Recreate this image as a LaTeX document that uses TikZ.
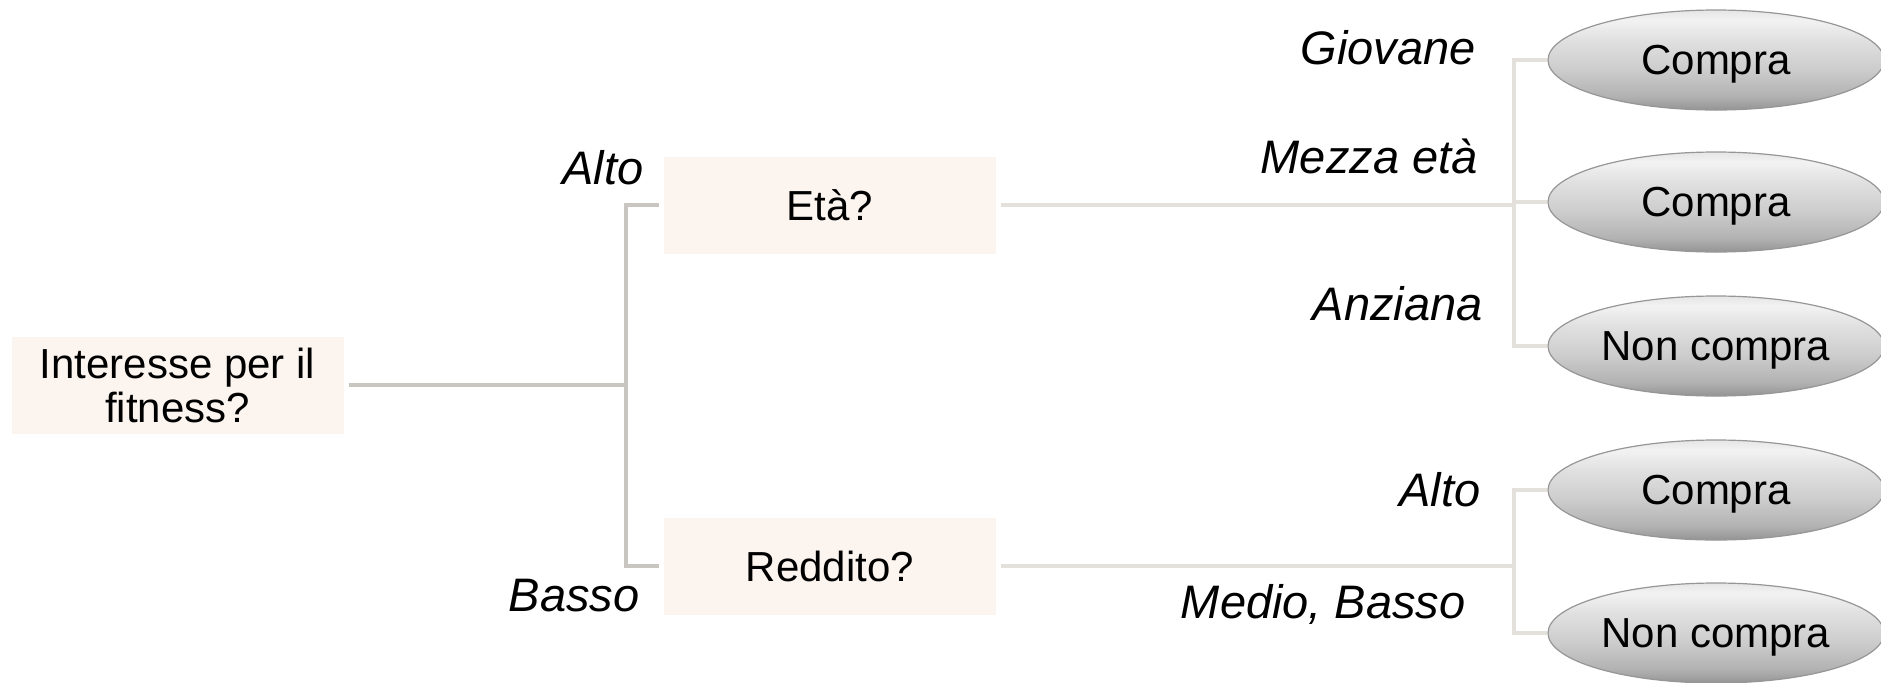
\documentclass[tikz,border=0pt]{standalone}
\usepackage{fontspec}
\setmainfont{Liberation Sans}
\usetikzlibrary{shapes.geometric}

\definecolor{boxfill}{RGB}{251,244,239}
\definecolor{linkdark}{RGB}{201,197,193}
\definecolor{linklight}{RGB}{228,224,220}
\definecolor{leafedge}{RGB}{150,150,150}

% glossy grey fill of the outcome ellipses (bottom dark, top light)
\pgfdeclareverticalshading{leafshade}{100bp}{%
  rgb(0bp)=(0.55,0.55,0.55);
  rgb(25bp)=(0.58,0.58,0.58);
  rgb(32bp)=(0.70,0.70,0.70);
  rgb(45bp)=(0.80,0.80,0.80);
  rgb(60bp)=(0.88,0.88,0.88);
  rgb(70bp)=(0.95,0.95,0.95);
  rgb(75bp)=(0.90,0.90,0.90);
  rgb(100bp)=(0.90,0.90,0.90)}

\tikzset{
  txt/.style={font=\fontsize{21}{22}\selectfont},
  question/.style={txt, rectangle, fill=boxfill, inner sep=0pt,
    minimum width=166pt, minimum height=48.5pt, outer xsep=2.5pt, align=center},
  leaf/.style={txt, ellipse, shading=leafshade, draw=leafedge, line width=0.6pt,
    minimum width=168pt, minimum height=50pt, inner sep=0pt, text depth=0pt},
  lbl/.style={anchor=east, inner sep=0pt, font=\itshape\fontsize{23.5}{24}\selectfont},
  linkL/.style={draw=linkdark, line width=2pt},
  linkR/.style={draw=linklight, line width=2pt},
}

\begin{document}
\begin{tikzpicture}[x=0.5pt, y=-0.5pt]
  \useasboundingbox (0,0) rectangle (1881,682);

  % question boxes
  \node[question] (root) at (177.5,385) {Interesse per il\\fitness?};
  \node[question] (eta) at (830,205) {Età?};
  \node[question] (red) at (830,566) {Reddito?};

  % outcome ellipses
  \node[leaf] (l1) at (1716,60)  {Compra};
  \node[leaf] (l2) at (1716,202) {Compra};
  \node[leaf] (l3) at (1716,346) {Non compra};
  \node[leaf] (l4) at (1716,490) {Compra};
  \node[leaf] (l5) at (1716,633) {Non compra};

  % junction columns
  \coordinate (jA) at (626,385);
  \coordinate (jB) at (1514,205);
  \coordinate (jC) at (1514,566);

  % first split
  \draw[linkL] (root.east) -- (root.east -| jA);
  \draw[linkL] (eta.west) -- (eta.west -| jA) -- (red.west -| jA) -- (red.west);

  % age split
  \draw[linkR] (eta.east) -- (eta.east -| jB);
  \draw[linkR] (l1.west) -- (l1.west -| jB) -- (l3.west -| jB) -- (l3.west);
  \draw[linkR] (l2.west -| jB) -- (l2.west);

  % income split
  \draw[linkR] (red.east) -- (red.east -| jC);
  \draw[linkR] (l4.west) -- (l4.west -| jC) -- (l5.west -| jC) -- (l5.west);

  % branch labels
  \node[lbl] (tAlto)   at (644,168)  {Alto};
  \node[lbl] (tBasso)  at (640,596)  {Basso};
  \node[lbl] (tGiov)   at (1476,48)  {Giovane};
  \node[lbl] (tMezza)  at (1478,156) {Mezza età};
  \node[lbl] (tAnz)    at (1483,304) {Anziana};
  \node[lbl] (tAlto2)  at (1481,490) {Alto};
  \node[lbl] (tMedio)  at (1466,604) {Medio, Basso};
\end{tikzpicture}
\end{document}
